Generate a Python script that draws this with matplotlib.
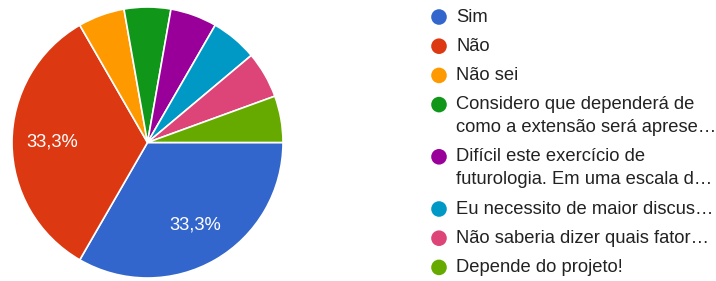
import matplotlib.pyplot as plt

plt.rcParams['font.family'] = ['Liberation Sans', 'DejaVu Sans']

# respostas
labels = ['Sim', 'Não', 'Não sei',
          'Considero que dependerá de\ncomo a extensão será aprese…',
          'Difícil este exercício de\nfuturologia. Em uma escala d…',
          'Eu necessito de maior discus…',
          'Não saberia dizer quais fator…',
          'Depende do projeto!']
counts = [6, 6, 1, 1, 1, 1, 1, 1]
colors = ['#3366cc', '#dc3912', '#ff9900', '#109618',
          '#990099', '#0099c6', '#dd4477', '#66aa00']

W, H = 716, 281
fig = plt.figure(figsize=(W / 100, H / 100), dpi=100)

# pie area (pixels)
cx, cy, r = 147.5, 142.5, 135.5
ax = fig.add_axes([(cx - r) / W, (H - cy - r) / H, 2 * r / W, 2 * r / H])


def pct(p):
    if p > 10:
        return f'{p:.1f}%'.replace('.', ',')
    return ''


ax.pie(counts, colors=colors, startangle=0, counterclock=False,
       autopct=pct, pctdistance=0.70,
       wedgeprops=dict(edgecolor='white', linewidth=1.2),
       textprops=dict(color='white', fontsize=13.2))
ax.set_xlim(-1, 1)
ax.set_ylim(-1, 1)
ax.set_aspect('equal')
ax.axis('off')

# legend drawn by hand so the dot sits on the first line of wrapped labels
lax = fig.add_axes([0, 0, 1, 1])
lax.set_xlim(0, W)
lax.set_ylim(H, 0)
lax.axis('off')
y = 17
for lab, c in zip(labels, colors):
    lax.scatter([439], [y], s=16 ** 2 * 0.72 ** 2 * 0.95, color=c,
                edgecolors='none')
    for k, line in enumerate(lab.split('\n')):
        lax.text(456, y + 23 * k, line, va='center', ha='left',
                 fontsize=13.2, color='#222222')
    y += 29.2 + 23 * (len(lab.split('\n')) - 1)

fig.savefig('out.png', dpi=100)
